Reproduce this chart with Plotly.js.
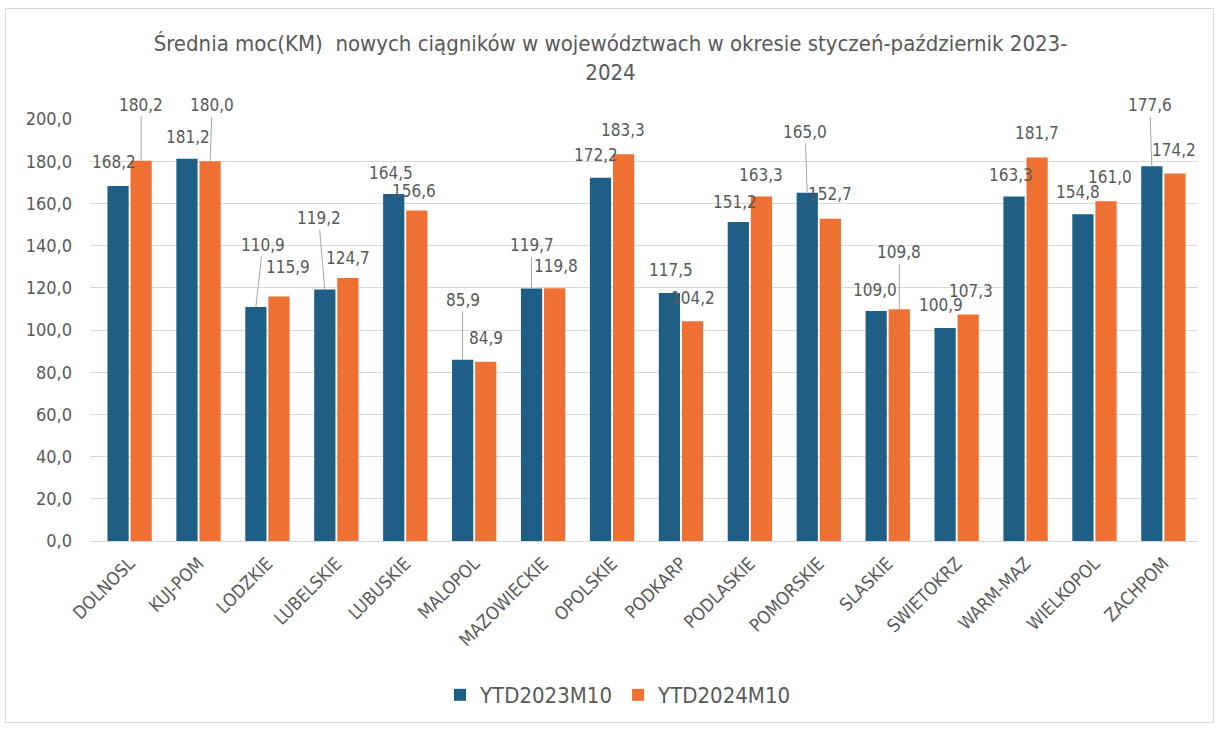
<!DOCTYPE html>
<html>
<head>
<meta charset="utf-8">
<script src="https://cdn.plot.ly/plotly-3.0.1.min.js"></script>
<style>
  html, body { margin: 0; padding: 0; background: #fff; }
  #chart { width: 1221px; height: 731px; }
  #frame { position: absolute; left: 5px; top: 8px; width: 1207px; height: 713px; border: 1px solid #d9d9d9; pointer-events: none; }
</style>
</head>
<body>
<div id="chart"></div>
<div id="frame"></div>
<script>
const categories = ["DOLNOSL","KUJ-POM","LODZKIE","LUBELSKIE","LUBUSKIE","MALOPOL","MAZOWIECKIE","OPOLSKIE","PODKARP","PODLASKIE","POMORSKIE","SLASKIE","SWIETOKRZ","WARM-MAZ","WIELKOPOL","ZACHPOM"];
const ytd2023 = [168.2,181.2,110.9,119.2,164.5,85.9,119.7,172.2,117.5,151.2,165.0,109.0,100.9,163.3,154.8,177.6];
const ytd2024 = [180.2,180.0,115.9,124.7,156.6,84.9,119.8,183.3,104.2,163.3,152.7,109.8,107.3,181.7,161.0,174.2];
const seriesNames = ["YTD2023M10","YTD2024M10"];

// label placement (pixel offsets from bar top) and whether a leader line is drawn
const labelPos2023 = [[-4,-24,0],[1,-22,0],[7,-62,1],[-6,-71,1],[-3,-21,0],[0,-60,1],[0,-43,1],[-4,-23,0],[2,-23,0],[-3,-20,0],[-2,-61,1],[-1,-21,0],[-4,-23,0],[-3,-21,0],[-5,-22,0],[-2,-61,1]];
const labelPos2024 = [[0,-56,1],[2,-56,1],[9,-29,0],[0,-20,0],[-3,-20,0],[0,-24,0],[1,-22,0],[-1,-24,0],[0,-23,0],[0,-21,0],[0,-25,0],[0,-57,1],[3,-24,0],[0,-25,0],[4,-24,0],[-1,-23,0]];

const FONT = '"Liberation Sans Narrow", "DejaVu Sans Condensed", "Liberation Sans", sans-serif';
const TXT = '#595959';
const BLUE = '#1f5f86';
const ORANGE = '#ee7133';

const fmt = v => v.toFixed(1).replace('.', ',');

const traces = [
  { type: 'bar', name: seriesNames[0], x: categories, y: ytd2023, marker: { color: BLUE }, hoverinfo: 'skip' },
  { type: 'bar', name: seriesNames[1], x: categories, y: ytd2024, marker: { color: ORANGE }, hoverinfo: 'skip' }
];

const annotations = [];
function addLabels(vals, pos, shift) {
  vals.forEach((v, i) => {
    const p = pos[i];
    annotations.push({
      x: categories[i], y: v, xref: 'x', yref: 'y', xshift: shift,
      text: fmt(v), showarrow: true, ax: p[0], ay: p[1],
      arrowhead: 0, arrowwidth: 1, standoff: 0, startstandoff: 0,
      arrowcolor: p[2] ? '#a6a6a6' : 'rgba(0,0,0,0)',
      font: { family: FONT, size: 17, color: TXT }
    });
  });
}
addLabels(ytd2023, labelPos2023, -11.6);
addLabels(ytd2024, labelPos2024, 11.6);

const layout = {
  width: 1221, height: 731,
  margin: { l: 90, r: 23, t: 119, b: 190 },
  paper_bgcolor: '#fff', plot_bgcolor: '#fff',
  separators: ', ',
  font: { family: FONT, color: TXT, size: 15 },
  title: {
    text: 'Średnia moc(KM)  nowych ciągników w województwach w okresie styczeń-październik 2023-<br>2024',
    font: { family: FONT, size: 22, color: TXT },
    x: 0.5, xanchor: 'center', y: 0.93, yanchor: 'top'
  },
  barmode: 'group', bargap: 0.33, bargroupgap: 0.08,
  xaxis: {
    type: 'category', tickangle: -45, showgrid: false,
    showline: true, linecolor: '#d9d9d9', linewidth: 1,
    ticks: '', tickfont: { family: FONT, size: 18, color: TXT }, ticklabelstandoff: 4
  },
  yaxis: {
    range: [0, 200], dtick: 20, tickformat: '.1f',
    showgrid: true, gridcolor: '#d9d9d9', gridwidth: 1,
    zeroline: true, zerolinecolor: '#d9d9d9', showline: false,
    ticks: '', ticklen: 0, tickfont: { family: FONT, size: 18, color: TXT }, ticklabelstandoff: 17
  },
  showlegend: true,
  legend: {
    orientation: 'h', x: 0.477, xanchor: 'center', y: -0.365, yanchor: 'middle',
    font: { family: FONT, size: 22, color: TXT }, itemwidth: 30, traceorder: 'normal'
  },
  annotations: annotations
};

Plotly.newPlot('chart', traces, layout, { displayModeBar: false, staticPlot: true });
</script>
</body>
</html>
